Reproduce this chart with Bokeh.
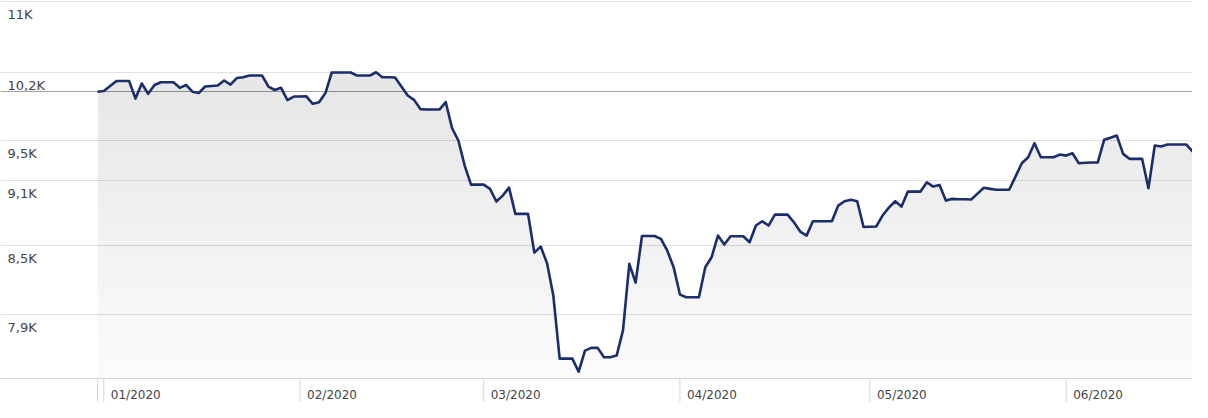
import numpy as np
import pandas as pd
from bokeh.plotting import figure
from bokeh.models import ColumnDataSource, FixedTicker, LabelSet, Range1d
from bokeh.core.properties import value
from bokeh.embed import file_html
from bokeh.resources import INLINE

# ---------------- data ----------------
start_date = "2019-12-31"
start_value = 10000
values = [
    10000, 10007, 10060, 10113, 10113, 10113, 9928, 10087, 9978, 10071,
    10101, 10101, 10101, 10041, 10071, 10000, 9986, 10055, 10060, 10065,
    10119, 10076, 10145, 10154, 10172, 10172, 10172, 10055, 10018, 10041,
    9912, 9949, 9949, 9951, 9873, 9889, 9986, 10205, 10205, 10205,
    10205, 10172, 10172, 10172, 10208, 10154, 10154, 10151, 10055, 9960,
    9914, 9818, 9813, 9813, 9813, 9891, 9623, 9497, 9249, 9065,
    9065, 9065, 9024, 8904, 8960, 9036, 8789, 8789, 8789, 8436,
    8490, 8343, 8062, 7542, 7542, 7542, 7438, 7606, 7628, 7628,
    7553, 7553, 7566, 7769, 8336, 8173, 8585, 8585, 8585, 8559,
    8454, 8306, 8070, 8047, 8047, 8047, 8306, 8395, 8589, 8508,
    8583, 8583, 8583, 8529, 8681, 8720, 8681, 8782, 8782, 8782,
    8711, 8626, 8589, 8720, 8720, 8720, 8720, 8866, 8907, 8920,
    8907, 8667, 8670, 8672, 8773, 8847, 8907, 8857, 8998, 8998,
    8998, 9087, 9046, 9062, 8913, 8929, 8926, 8925, 8923, 8979,
    9034, 9024, 9015, 9015, 9015, 9142, 9272, 9331, 9470, 9331,
    9331, 9331, 9357, 9347, 9370, 9272, 9277, 9279, 9280, 9504,
    9524, 9547, 9364, 9315, 9315, 9315, 9030, 9447, 9437, 9457,
    9457, 9457, 9457, 9387, 9414, 9380,
]
dates = pd.date_range(start_date, periods=len(values), freq="D")

y_ticks = [7900, 8500, 9100, 9500, 10200, 11000]
y_tick_labels = ["7,9K", "8,5K", "9,1K", "9,5K", "10,2K", "11K"]

month_starts = pd.to_datetime(["2020-01-01", "2020-02-01", "2020-03-01",
                               "2020-04-01", "2020-05-01", "2020-06-01"])
month_labels = ["01/2020", "02/2020", "03/2020", "04/2020", "05/2020", "06/2020"]

# ---------------- styling / layout ----------------
NAVY = "#1c2d6b"
FILL = "#30397a"
GRID = "#e0e0e0"
AXIS = "#d6d6d6"
TEXT = "#444444"
FONT = "DejaVu Sans"
W, H = 1192, 402

day = pd.Timedelta(days=1)
px_per_day = 6.331
left_px = 97
x_range = Range1d(dates[0] - (left_px / px_per_day) * day,
                  dates[0] + ((W - left_px) / px_per_day) * day)
y_range = Range1d(7200, 11012)
axis_floor = 7385

p = figure(width=W, height=H, x_axis_type="datetime", y_axis_type="log",
           x_range=x_range, y_range=y_range,
           output_backend="svg", toolbar_location=None,
           min_border_left=0, min_border_right=0,
           min_border_top=0, min_border_bottom=0)
p.xaxis.visible = False
p.yaxis.visible = False
p.xgrid.visible = False
p.ygrid.ticker = FixedTicker(ticks=y_ticks)
p.ygrid.grid_line_color = GRID
p.ygrid.grid_line_width = 1
p.outline_line_color = None
p.background_fill_color = "white"
p.border_fill_color = "white"

vals = np.array(values, dtype=float)
src = ColumnDataSource(dict(x=dates, y=vals))

# start-value reference line
p.hspan(y=[start_value], line_color="#a3a3a3", line_width=1)

# gradient-like fill: stacked translucent layers
n_layers = 20
p.varea(x=dates, y1=np.full(len(vals), axis_floor), y2=vals,
        fill_color=FILL, fill_alpha=0.02)
top = y_ticks[-1]
for k in range(1, n_layers + 1):
    lo = axis_floor * (top / axis_floor) ** (k / n_layers * 0.75)
    p.varea(x=dates, y1=np.full(len(vals), lo), y2=np.maximum(vals, lo),
            fill_color=FILL, fill_alpha=0.0048)

# bottom axis line & month separators
p.hspan(y=[axis_floor], line_color=AXIS, line_width=1)
sep_x = [dates[0]] + list(month_starts)
p.segment(x0=sep_x, y0=[axis_floor] * len(sep_x), x1=sep_x, y1=[y_range.start] * len(sep_x),
          line_color=AXIS, line_width=1)

# main line
p.line("x", "y", source=src, line_color=NAVY, line_width=2.6, line_join="round")

# y labels (below their grid lines, at left edge)
ysrc = ColumnDataSource(dict(y=y_ticks, text=y_tick_labels))
p.add_layout(LabelSet(x=7, y="y", text="text", source=ysrc, x_units="screen",
                      y_offset=-13, text_baseline="middle", text_align="left",
                      text_font=value(FONT), text_font_size="13px",
                      text_color=TEXT))

# month labels
msrc = ColumnDataSource(dict(x=month_starts, text=month_labels))
p.add_layout(LabelSet(x="x", y=8, text="text", source=msrc, y_units="screen",
                      x_offset=7, text_baseline="middle", text_align="left",
                      text_font=value(FONT), text_font_size="12px",
                      text_color=TEXT))

open("out.html", "w").write(file_html(p, INLINE))
